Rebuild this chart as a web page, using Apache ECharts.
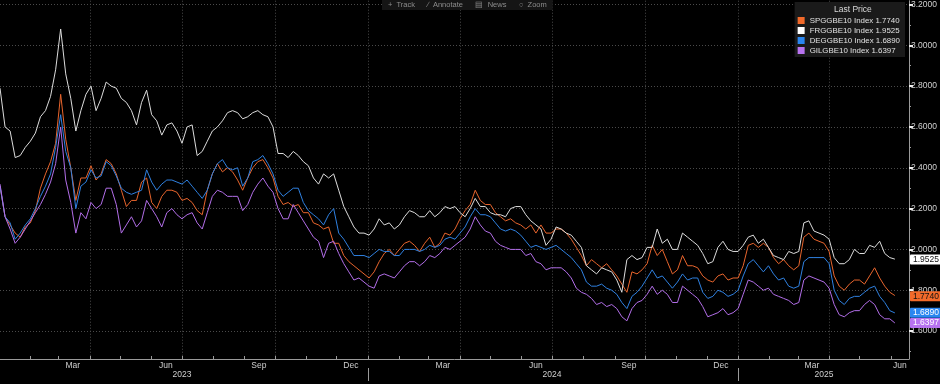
<!DOCTYPE html>
<html><head><meta charset="utf-8">
<script src="https://cdn.jsdelivr.net/npm/echarts@6/dist/echarts.min.js"></script>
<style>html,body{margin:0;padding:0;background:#000}#c{width:940px;height:384px}</style>
</head><body><div id="c"></div>
<script>
// ---------------- data ----------------
const seriesNames = ['SPGGBE10 Index', 'FRGGBE10 Index', 'DEGGBE10 Index', 'GILGBE10 Index'];
const lastPrices = [1.7740, 1.9525, 1.6890, 1.6397];
const axisStart = '2023-01-02';
const axisEnd = '2025-06-19';
const sampleStart = '2023-01-02';
const sampleStepDays = 5;

const sp = [
2.31,2.16,2.12,2.08,2.06,2.11,2.13,2.19,2.30,2.37,
2.43,2.52,2.76,2.54,2.40,2.24,2.35,2.35,2.41,2.34,
2.37,2.44,2.42,2.37,2.29,2.21,2.24,2.24,2.33,2.35,
2.23,2.20,2.26,2.29,2.29,2.28,2.24,2.25,2.23,2.19,
2.17,2.29,2.37,2.42,2.38,2.40,2.38,2.34,2.29,2.35,
2.40,2.43,2.44,2.40,2.35,2.26,2.22,2.23,2.21,2.22,
2.18,2.18,2.13,2.12,2.10,2.11,2.03,2.03,1.97,1.94,
1.92,1.90,1.88,1.86,1.89,1.94,1.98,2.00,1.97,2.00,
2.03,2.04,2.02,1.99,2.03,2.06,2.01,2.03,2.08,2.07,
2.10,2.15,2.19,2.22,2.29,2.24,2.22,2.22,2.18,2.16,
2.14,2.15,2.13,2.12,2.10,2.12,2.08,2.12,2.08,2.08,
2.10,2.10,2.08,2.05,2.01,1.97,1.92,1.95,1.93,1.91,
1.93,1.90,1.87,1.83,1.79,1.89,1.88,1.90,1.93,2.02,
1.97,2.00,1.94,1.88,1.90,1.97,1.92,1.92,1.91,1.87,
1.85,1.84,1.87,1.88,1.85,1.86,1.86,1.92,2.02,2.03,
2.01,2.03,2.01,1.96,1.93,1.95,1.92,1.90,1.92,2.06,
2.08,2.05,2.04,2.03,1.99,1.87,1.82,1.80,1.83,1.85,
1.85,1.83,1.87,1.91,1.86,1.82,1.79,1.774];

const fr = [
2.79,2.60,2.58,2.45,2.46,2.50,2.53,2.57,2.65,2.68,
2.75,2.88,3.08,2.86,2.74,2.58,2.68,2.76,2.80,2.68,
2.74,2.82,2.80,2.79,2.74,2.72,2.68,2.61,2.72,2.78,
2.66,2.63,2.56,2.61,2.62,2.58,2.52,2.60,2.61,2.46,
2.48,2.53,2.58,2.60,2.63,2.67,2.68,2.67,2.64,2.65,
2.67,2.68,2.66,2.65,2.60,2.47,2.47,2.45,2.48,2.46,
2.43,2.41,2.35,2.32,2.37,2.35,2.37,2.29,2.21,2.16,
2.11,2.08,2.08,2.07,2.10,2.15,2.12,2.13,2.10,2.12,
2.16,2.19,2.18,2.16,2.16,2.19,2.16,2.18,2.21,2.20,
2.21,2.18,2.16,2.20,2.25,2.21,2.21,2.18,2.17,2.17,
2.16,2.20,2.21,2.21,2.17,2.14,2.12,2.10,2.02,2.05,
2.11,2.10,2.08,2.07,2.04,2.01,1.92,1.90,1.88,1.91,
1.90,1.89,1.85,1.79,1.95,1.97,1.95,1.96,2.01,2.01,
2.10,2.03,2.05,2.00,2.00,2.08,2.06,2.04,2.02,1.98,
1.93,1.94,2.01,2.04,2.00,1.99,1.99,2.02,2.06,2.07,
2.03,2.05,2.01,1.97,1.96,1.95,1.99,1.98,1.99,2.13,
2.14,2.09,2.08,2.07,2.05,1.96,1.93,1.93,1.95,2.00,
1.98,1.98,2.02,2.01,2.04,1.98,1.96,1.9525];

const de = [
2.31,2.16,2.13,2.05,2.08,2.12,2.15,2.20,2.26,2.31,
2.37,2.50,2.66,2.48,2.40,2.20,2.31,2.33,2.39,2.35,
2.36,2.43,2.41,2.36,2.30,2.28,2.27,2.28,2.29,2.39,
2.33,2.29,2.32,2.34,2.34,2.33,2.32,2.34,2.31,2.28,
2.25,2.29,2.37,2.42,2.44,2.40,2.39,2.40,2.31,2.35,
2.43,2.44,2.46,2.42,2.37,2.29,2.26,2.28,2.30,2.30,
2.23,2.19,2.17,2.15,2.12,2.17,2.20,2.08,2.05,2.01,
1.97,1.97,1.97,1.96,1.98,2.00,1.99,1.99,1.97,1.97,
2.00,2.00,2.00,1.99,2.00,2.02,2.01,2.02,2.05,2.06,
2.05,2.08,2.11,2.16,2.20,2.17,2.17,2.16,2.13,2.10,
2.09,2.10,2.09,2.07,2.04,2.01,2.02,2.01,2.00,2.01,
2.02,2.00,1.98,1.96,1.93,1.90,1.84,1.82,1.82,1.83,
1.81,1.80,1.78,1.74,1.71,1.77,1.79,1.82,1.86,1.90,
1.86,1.87,1.84,1.81,1.84,1.88,1.85,1.86,1.86,1.79,
1.76,1.77,1.80,1.79,1.77,1.78,1.80,1.87,1.93,1.95,
1.92,1.89,1.92,1.88,1.85,1.86,1.82,1.81,1.82,1.94,
1.96,1.96,1.96,1.96,1.93,1.80,1.75,1.73,1.76,1.77,
1.77,1.79,1.81,1.82,1.77,1.74,1.70,1.689];

const gil = [
2.32,2.16,2.10,2.03,2.06,2.10,2.14,2.18,2.22,2.27,
2.33,2.42,2.60,2.34,2.23,2.08,2.18,2.15,2.23,2.20,
2.22,2.30,2.30,2.22,2.08,2.12,2.16,2.11,2.14,2.24,
2.20,2.16,2.11,2.18,2.20,2.17,2.15,2.17,2.18,2.13,
2.10,2.18,2.26,2.29,2.28,2.26,2.26,2.26,2.19,2.22,
2.28,2.32,2.35,2.31,2.28,2.20,2.15,2.15,2.22,2.18,
2.14,2.10,2.06,2.04,1.96,2.03,2.04,1.98,1.93,1.89,
1.85,1.86,1.84,1.82,1.81,1.87,1.88,1.87,1.86,1.89,
1.92,1.94,1.94,1.92,1.94,1.97,1.96,1.98,2.01,2.00,
2.02,2.04,2.06,2.10,2.16,2.12,2.09,2.08,2.04,2.02,
2.01,2.00,2.00,2.00,1.97,1.98,1.94,1.93,1.90,1.91,
1.91,1.91,1.89,1.86,1.81,1.79,1.78,1.76,1.73,1.74,
1.72,1.73,1.71,1.67,1.65,1.71,1.74,1.75,1.78,1.82,
1.78,1.80,1.78,1.74,1.74,1.82,1.80,1.78,1.76,1.72,
1.67,1.68,1.69,1.71,1.68,1.69,1.71,1.78,1.85,1.84,
1.82,1.80,1.81,1.78,1.77,1.76,1.75,1.73,1.74,1.85,
1.87,1.86,1.85,1.84,1.81,1.73,1.68,1.67,1.69,1.70,
1.70,1.73,1.75,1.73,1.68,1.66,1.66,1.6397];

const yTicks = [1.6, 1.8, 2.0, 2.2, 2.4, 2.6, 2.8, 3.0, 3.2];
const yMinorTicks = [1.5, 1.7, 1.9, 2.1, 2.3, 2.5, 2.7, 2.9, 3.1];
const monthLabels = [
  ['2023-03-15','Mar'],['2023-06-15','Jun'],['2023-09-15','Sep'],['2023-12-15','Dec'],
  ['2024-03-15','Mar'],['2024-06-15','Jun'],['2024-09-15','Sep'],['2024-12-15','Dec'],
  ['2025-03-15','Mar'],['2025-06-10','Jun']];
const yearLabels = [['2023-07-01','2023'],['2024-07-01','2024'],['2025-03-27','2025']];
const yearBreaks = ['2024-01-01','2025-01-01'];

// ---------------- build ----------------
const FONT = '"Liberation Sans", Arial, sans-serif';
const colors = ['#e8652d', '#dcdcdc', '#2f80e0', '#b26ee8'];
const tagBg = ['#f26a2a', '#ffffff', '#2a86f0', '#b873f0'];
const tagText = ['#111', '#111', '#fff', '#fff'];
const values = [sp, fr, de, gil];

function fmt(t) { return new Date(t).toISOString().slice(0, 10); }
const DAY = 86400000;
const cats = [];
for (let t = Date.parse(axisStart); t <= Date.parse(axisEnd); t += DAY) cats.push(fmt(t));
const sampleDates = sp.map((_, k) => fmt(Date.parse(sampleStart) + k * sampleStepDays * DAY));

const monthMap = new Map(monthLabels);
const yearMap = new Map(yearLabels);
const breakSet = new Set(yearBreaks);
const isMonthStart = v => v.slice(8) === '01';
const isQuarterStart = v => isMonthStart(v) && ['01','04','07','10'].includes(v.slice(5, 7));

const yMin = 1.4631, yMax = 3.2186;

const chart = echarts.init(document.getElementById('c'), null, {renderer: 'canvas'});
chart.setOption({
  backgroundColor: '#000',
  animation: false,
  textStyle: {fontFamily: FONT},
  grid: {left: 0, right: 31, top: 0, bottom: 25, containLabel: false},
  title: [
    {text: 'Last Price', left: 834, top: 5, padding: 0,
     textStyle: {color: '#d8d8d8', fontSize: 8.5, fontWeight: 'normal', fontFamily: FONT}},
    {text: '+  Track      \u2215  Annotate      \u25A4  News      \u25CB  Zoom', left: 382, top: 0,
     padding: [1, 6, 1, 6], backgroundColor: '#151515',
     textStyle: {color: '#8c8c8c', fontSize: 7.5, fontWeight: 'normal', fontFamily: FONT}}
  ],
  legend: {
    orient: 'vertical', right: 35, top: 2, padding: [14, 5, 2, 3],
    backgroundColor: '#1a1a1a', itemGap: 1, itemWidth: 7, itemHeight: 7, icon: 'rect',
    data: seriesNames,
    textStyle: {color: '#e0e0e0', fontSize: 7.9, lineHeight: 9, fontFamily: FONT},
    formatter: name => name + ' ' + lastPrices[seriesNames.indexOf(name)].toFixed(4),
    selectedMode: false
  },
  xAxis: [{
    type: 'category', data: cats, boundaryGap: false,
    axisLine: {lineStyle: {color: '#9a9a9a', width: 1}},
    axisTick: {show: true, inside: true, length: 3, interval: (i, v) => isMonthStart(v),
      lineStyle: {color: '#9a9a9a'}},
    axisLabel: {interval: (i, v) => monthMap.has(v), formatter: v => monthMap.get(v) || '',
      color: '#cfcfcf', fontSize: 8.5, margin: 2, fontFamily: FONT},
    splitLine: {show: true, interval: (i, v) => isQuarterStart(v),
      lineStyle: {color: '#4a4a4a', type: [1, 2]}}
  }, {
    type: 'category', data: cats, boundaryGap: false, position: 'bottom', offset: 9,
    axisLine: {show: false},
    axisTick: {show: true, length: 13, interval: (i, v) => breakSet.has(v),
      lineStyle: {color: '#9a9a9a'}},
    axisLabel: {interval: (i, v) => yearMap.has(v), formatter: v => yearMap.get(v) || '',
      color: '#cfcfcf', fontSize: 8.5, margin: 2, fontFamily: FONT},
    splitLine: {show: false}
  }],
  yAxis: [{
    type: 'value', position: 'right', min: yMin, max: yMax,
    axisLine: {show: true, lineStyle: {color: '#9a9a9a'}},
    axisTick: {show: true, customValues: yTicks, length: 4, lineStyle: {color: '#f0f0f0', width: 2}},
    axisLabel: {customValues: yTicks, formatter: v => v.toFixed(4), color: '#d0d0d0',
      fontSize: 8.5, margin: 2, fontFamily: FONT},
    splitLine: {show: true, lineStyle: {color: '#4a4a4a', type: [1, 2]}}
  }, {
    type: 'value', position: 'right', min: yMin, max: yMax,
    axisLine: {show: false},
    axisTick: {show: true, customValues: yMinorTicks, length: 2, lineStyle: {color: '#9a9a9a'}},
    axisLabel: {show: false},
    splitLine: {show: false}
  }],
  series: seriesNames.map((name, i) => ({
    type: 'line', name: name,
    data: sampleDates.map((d, k) => [d, values[i][k]]),
    symbol: 'none', showSymbol: false,
    lineStyle: {width: 1, color: colors[i]}, itemStyle: {color: tagBg[i]},
    markLine: {
      silent: true, symbol: 'none', animation: false,
      lineStyle: {width: 0, color: 'rgba(0,0,0,0)', opacity: 1},
      data: [{yAxis: lastPrices[i]}],
      label: {show: true, position: 'end', distance: 1, formatter: lastPrices[i].toFixed(4),
        backgroundColor: tagBg[i], color: tagText[i], fontSize: 8.5, fontFamily: FONT,
        padding: [1, 2, 0, 3], borderRadius: 1, opacity: 1}
    }
  }))
});
</script></body></html>
